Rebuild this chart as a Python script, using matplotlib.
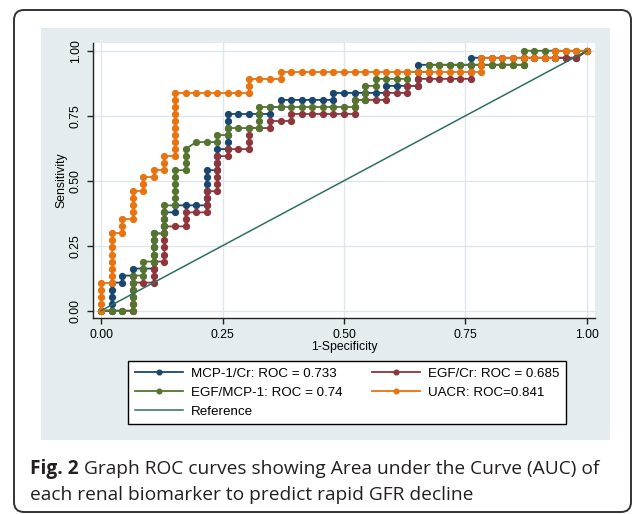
import matplotlib
matplotlib.use("Agg")
import matplotlib.pyplot as plt
from matplotlib.patches import FancyBboxPatch, Rectangle

# ROC points, as counts of false / true positives
n_neg = 46
n_pos = 37

mcp_fp = [0, 1, 1, 1, 1, 1, 2, 2, 3, 3, 4, 5, 5, 5, 5, 5, 5, 6, 6, 6, 6, 7, 7, 8, 9,
          10, 10, 10, 10, 10, 10, 11, 11, 11, 11, 12, 12, 12, 12, 12, 12, 13, 14, 15,
          16, 16, 17, 17, 18, 19, 20, 21, 22, 22, 23, 24, 25, 26, 27, 27, 28, 29, 30,
          30, 30, 30, 31, 32, 33, 34, 35, 35, 36, 37, 38, 39, 40, 41, 42, 43, 44, 45, 46]
mcp_tp = [0, 0, 1, 2, 3, 4, 4, 5, 5, 6, 6, 6, 7, 8, 9, 10, 11, 11, 12, 13, 14, 14, 15,
          15, 15, 15, 16, 17, 18, 19, 20, 20, 21, 22, 23, 23, 24, 25, 26, 27, 28, 28,
          28, 28, 28, 29, 29, 30, 30, 30, 30, 30, 30, 31, 31, 31, 31, 31, 31, 32, 32,
          32, 32, 33, 34, 35, 35, 35, 35, 35, 35, 36, 36, 36, 36, 36, 36, 36, 36, 36,
          36, 36, 37]

egf_fp = [0, 1, 2, 3, 3, 3, 3, 3, 4, 5, 5, 5, 5, 6, 6, 6, 6, 6, 6, 7, 8, 8, 8, 9, 10,
          10, 10, 10, 11, 11, 11, 11, 11, 11, 12, 12, 13, 14, 14, 14, 14, 15, 16, 16,
          17, 18, 18, 19, 20, 21, 22, 23, 24, 24, 24, 25, 26, 27, 27, 28, 29, 29, 30,
          30, 31, 32, 33, 34, 35, 35, 35, 36, 37, 38, 39, 40, 40, 41, 42, 43, 44, 45, 46]
egf_tp = [0, 0, 0, 0, 1, 2, 3, 4, 4, 4, 5, 6, 7, 7, 8, 9, 10, 11, 12, 12, 12, 13, 14,
          14, 14, 15, 16, 17, 17, 18, 19, 20, 21, 22, 22, 23, 23, 23, 24, 25, 26, 26,
          26, 27, 27, 27, 28, 28, 28, 28, 28, 28, 28, 29, 30, 30, 30, 30, 31, 31, 31,
          32, 32, 33, 33, 33, 33, 33, 33, 34, 35, 35, 35, 35, 35, 35, 36, 36, 36, 36,
          36, 36, 37]

ratio_fp = [0, 1, 2, 3, 3, 3, 3, 3, 3, 4, 4, 4, 5, 5, 5, 5, 5, 6, 6, 6, 6, 6, 7, 7, 7,
            7, 7, 7, 8, 8, 8, 8, 9, 10, 11, 11, 12, 12, 13, 14, 15, 15, 15, 15, 16, 17,
            18, 19, 20, 21, 22, 23, 24, 24, 25, 25, 25, 26, 26, 27, 28, 29, 29, 30, 31,
            31, 32, 33, 34, 35, 36, 37, 38, 39, 40, 40, 40, 41, 42, 43, 44, 45, 46]
ratio_tp = [0, 0, 0, 0, 1, 2, 3, 4, 5, 5, 6, 7, 7, 8, 9, 10, 11, 11, 12, 13, 14, 15,
            15, 16, 17, 18, 19, 20, 20, 21, 22, 23, 24, 24, 24, 25, 25, 26, 26, 26, 26,
            27, 28, 29, 29, 29, 29, 29, 29, 29, 29, 29, 29, 30, 30, 31, 32, 32, 33, 33,
            33, 33, 34, 34, 34, 35, 35, 35, 35, 35, 35, 35, 35, 35, 35, 36, 37, 37, 37,
            37, 37, 37, 37]

uacr_fp = [0, 0, 0, 0, 0, 1, 1, 1, 1, 1, 1, 1, 1, 2, 2, 2, 3, 3, 3, 3, 3, 4, 4, 4, 5, 5,
           6, 6, 6, 7, 7, 7, 7, 7, 7, 7, 7, 7, 7, 8, 9, 10, 11, 12, 13, 14, 14, 14, 15,
           16, 17, 17, 18, 19, 20, 21, 22, 23, 24, 25, 26, 27, 28, 29, 30, 31, 32, 33,
           34, 35, 36, 36, 36, 37, 38, 39, 40, 41, 42, 43, 43, 44, 45, 46]
uacr_tp = [0, 1, 2, 3, 4, 4, 5, 6, 7, 8, 9, 10, 11, 11, 12, 13, 13, 14, 15, 16, 17, 17,
           18, 19, 19, 20, 20, 21, 22, 22, 23, 24, 25, 26, 27, 28, 29, 30, 31, 31, 31,
           31, 31, 31, 31, 31, 32, 33, 33, 33, 33, 34, 34, 34, 34, 34, 34, 34, 34, 34,
           34, 34, 34, 34, 34, 34, 34, 34, 34, 34, 34, 35, 36, 36, 36, 36, 36, 36, 36,
           36, 37, 37, 37, 37]

ref_x = [0, 1]
ref_y = [0, 1]

labels = ["MCP-1/Cr: ROC = 0.733", "EGF/Cr: ROC = 0.685",
          "EGF/MCP-1: ROC = 0.74", "UACR: ROC=0.841", "Reference"]
colors = ["#1a476f", "#90353b", "#55752f", "#e8730f", "#2e6f63"]
ticks = [0, 0.25, 0.5, 0.75, 1]
tick_labels = ["0.00", "0.25", "0.50", "0.75", "1.00"]

W, H = 636, 514
stata_font = "Liberation Sans"

fig = plt.figure(figsize=(W / 100, H / 100), dpi=100)
fig.patch.set_facecolor("white")

# outer rounded frame and the light Stata graph region, kept behind the axes
frame = FancyBboxPatch((0.14, 0.02), 6.17, 5.02, boxstyle="round,pad=0,rounding_size=0.1",
                       transform=fig.dpi_scale_trans, facecolor="white",
                       edgecolor="#333333", lw=1.4, zorder=-2)
fig.patches.append(frame)
panel = Rectangle((0.407, 0.74), 5.693, 4.12, transform=fig.dpi_scale_trans,
                  facecolor="#e4ecef", edgecolor="none", zorder=-1)
fig.patches.append(panel)

ax = fig.add_axes([93 / W, 1 - 318 / H, (595 - 93) / W, (318 - 42.7) / H])
ax.set_facecolor("white")

series = [(mcp_fp, mcp_tp), (egf_fp, egf_tp), (ratio_fp, ratio_tp), (uacr_fp, uacr_tp)]
handles = []
for (fp, tp), c, lab in zip(series, colors, labels):
    x = [v / n_neg for v in fp]
    y = [v / n_pos for v in tp]
    h, = ax.plot(x, y, color=c, lw=1.3, marker="o", ms=4.2, mec=c, mfc=c,
                 label=lab, zorder=3)
    handles.append(h)
h, = ax.plot(ref_x, ref_y, color=colors[4], lw=1.1, label=labels[4], zorder=4)
handles.append(h)

ax.set_xlim(-0.0165, 1.0165)
ax.set_ylim(-0.028, 1.031)
ax.set_xticks(ticks)
ax.set_xticklabels(tick_labels, family=stata_font, fontsize=8.8)
ax.set_yticks(ticks)
ax.set_yticklabels(tick_labels, family=stata_font, fontsize=8.8,
                   rotation=90, va="center")
ax.tick_params(direction="out", length=4, width=1, color="#222222", pad=4)
ax.grid(True, color="#dde7eb", lw=1.0)
ax.set_axisbelow(True)
for s in ["top", "right"]:
    ax.spines[s].set_visible(False)
for s in ["left", "bottom"]:
    ax.spines[s].set_color("#222222")
    ax.spines[s].set_linewidth(1.0)

ax.set_xlabel("1-Specificity", family=stata_font, fontsize=8.8)
ax.xaxis.set_label_coords(0.5, -0.104)
ax.xaxis.label.set_verticalalignment("center")
ax.set_ylabel("Sensitivity", family=stata_font, fontsize=8.8)
ax.yaxis.set_label_coords(-0.062, 0.5)
ax.yaxis.label.set_verticalalignment("center")

order = [0, 2, 4, 1, 3]
leg = fig.legend([handles[i] for i in order], [labels[i] for i in order], ncol=2,
                 loc="upper left", bbox_to_anchor=(128 / W, 1 - 360.7 / H),
                 frameon=True, fancybox=False, edgecolor="black", framealpha=1,
                 borderaxespad=0, borderpad=0.5, handlelength=3.6,
                 handletextpad=0.6, columnspacing=2.2, labelspacing=0.5,
                 markerscale=0.8, prop={"family": stata_font, "size": 9.6})
leg.get_frame().set_linewidth(1.0)

# caption under the graph
r = fig.canvas.get_renderer()
cap_font = dict(family="Open Sans", fontsize=13.8, color="#231f20", va="center")
t1 = fig.text(30 / W, 1 - 469 / H, "Fig. 2", weight="bold", **cap_font)
bb = t1.get_window_extent(renderer=r)
fig.text((bb.x1 + 5) / W, 1 - 469 / H,
         "Graph ROC curves showing Area under the Curve (AUC) of", **cap_font)
fig.text(30 / W, 1 - 495 / H,
         "each renal biomarker to predict rapid GFR decline", **cap_font)

fig.savefig("out.png", dpi=100)
